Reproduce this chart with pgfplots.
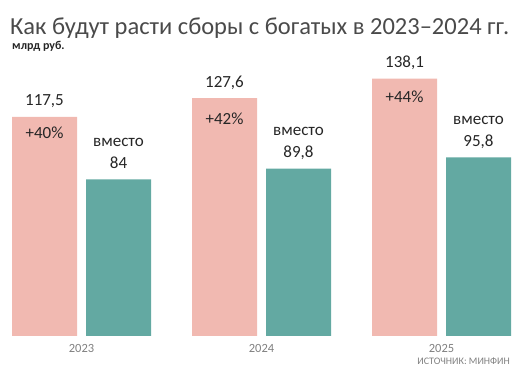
\documentclass[border=0pt]{standalone}
\usepackage{fontspec}
\setmainfont{Carlito}
\usepackage{pgfplots}
\pgfplotsset{compat=1.18}
\definecolor{pinkbar}{HTML}{F1B9B1}
\definecolor{tealbar}{HTML}{63A9A2}
\definecolor{txt}{HTML}{262626}
\definecolor{ttl}{HTML}{4A4A4A}
\definecolor{yr}{HTML}{7F7F7F}
\begin{document}
\begin{tikzpicture}[x=1pt,y=1pt]
\useasboundingbox (0,0) rectangle (530,380);
\node[anchor=base west, inner sep=0, text=ttl, font=\fontsize{24.5}{26}\selectfont] at (10,345) {Как будут расти сборы с богатых в 2023–2024 гг.};
\node[anchor=base west, inner sep=0, text=txt, font=\bfseries\fontsize{12}{13}\selectfont] at (12,330.5) {млрд руб.};
\node[anchor=base east, inner sep=0, text=yr, font=\fontsize{10}{11}\selectfont] at (510,15) {ИСТОЧНИК: МИНФИН};
\begin{axis}[
  at={(81.5pt,44pt)}, anchor=origin,
  x=180pt, y=1.864pt,
  xmin=-0.4, xmax=2.4, ymin=0, ymax=150,
  ybar=9pt, bar width=65pt,
  axis x line*=bottom, axis y line=none,
  x axis line style={draw=none},
  major tick length=0pt,
  xtick={0,1,2}, xticklabels={2023,2024,2025},
  xticklabel style={text=yr, font=\fontsize{12.5}{14}\selectfont, yshift=-5pt},
  ytick=\empty,
  clip=false,
]
\addplot[fill=pinkbar, draw=none] coordinates {(0,117.5) (1,127.6) (2,138.1)};
\addplot[fill=tealbar, draw=none] coordinates {(0,84) (1,89.8) (2,95.8)};
\begin{scope}[every node/.style={anchor=base, inner sep=0, text=txt, font=\fontsize{17}{18}\selectfont}]
\node[yshift=11pt] at (axis cs:-0.2056,117.5) {117,5};
\node[yshift=11pt] at (axis cs:0.7944,127.6) {127,6};
\node[yshift=11pt] at (axis cs:1.7944,138.1) {138,1};
\node[yshift=-22pt] at (axis cs:-0.2056,117.5) {+40\%};
\node[yshift=-26pt] at (axis cs:0.7944,127.6) {+42\%};
\node[yshift=-24pt] at (axis cs:1.7944,138.1) {+44\%};
\node[yshift=11pt] at (axis cs:0.2056,84) {84};
\node[yshift=11pt] at (axis cs:1.2056,89.8) {89,8};
\node[yshift=11pt] at (axis cs:2.2056,95.8) {95,8};
\node[yshift=33pt] at (axis cs:0.2056,84) {вместо};
\node[yshift=33pt] at (axis cs:1.2056,89.8) {вместо};
\node[yshift=33pt] at (axis cs:2.2056,95.8) {вместо};
\end{scope}
\end{axis}
\end{tikzpicture}
\end{document}
